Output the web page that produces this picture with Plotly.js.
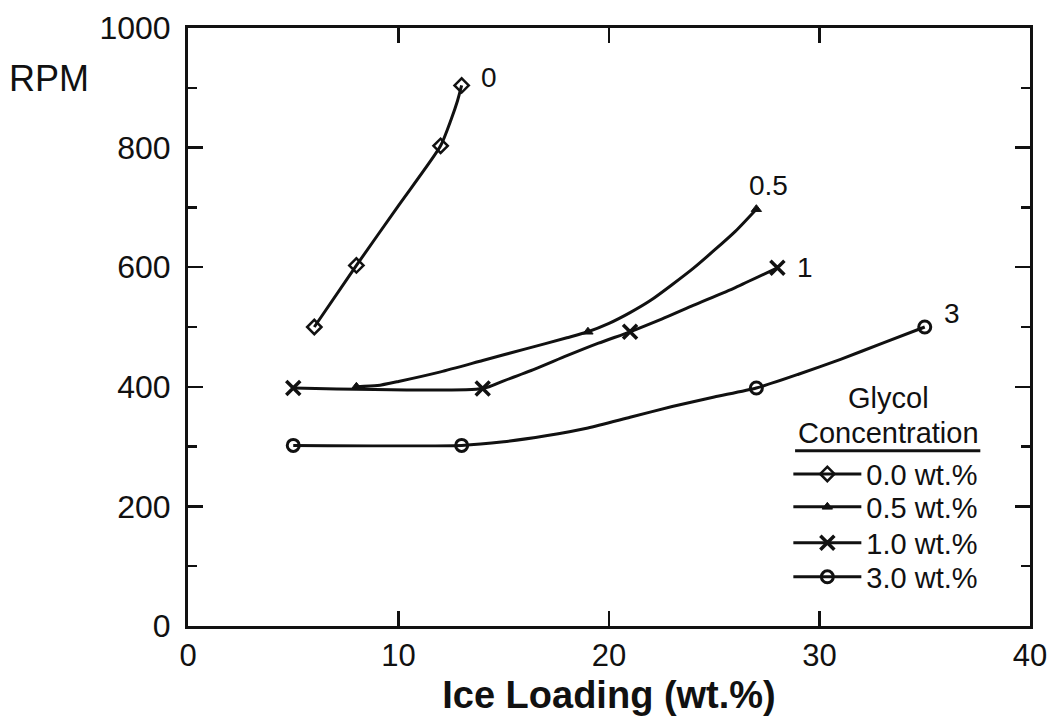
<!DOCTYPE html>
<html>
<head>
<meta charset="utf-8">
<script src="https://cdn.plot.ly/plotly-3.0.1.min.js"></script>
<style>html,body{margin:0;padding:0;background:#fff;}#chart{width:1050px;height:726px;}</style>
</head>
<body>
<div id="chart"></div>
<script>
// Measured points (markers)
const g0_x = [6, 8, 12, 13];
const g0_y = [500, 603, 803, 904];
const g05_x = [8, 19, 27];
const g05_y = [400, 492, 697];
const g1_x = [5, 14, 21, 28];
const g1_y = [398, 397, 492, 599];
const g3_x = [5, 13, 27, 35];
const g3_y = [302, 302, 398, 500];

// Fitted curves
const g0_curve_x = [6, 8, 10, 12, 12.5, 12.8, 13];
const g0_curve_y = [500, 603, 703, 803, 847, 878, 904];
const g05_curve_x = [8, 9, 10, 12, 14, 16, 18, 19, 20, 21, 22, 24, 26, 27];
const g05_curve_y = [400, 402, 409, 425, 444, 463, 482, 492, 506, 524, 545, 598, 660, 697];
const g1_curve_x = [5, 14, 15, 16.5, 18, 19.5, 21, 22.5, 24, 26, 28];
const g1_curve_y = [398, 397, 410, 430, 452, 473, 492, 513, 536, 566, 599];
const g3_curve_x = [5, 13, 15, 17, 19, 21, 23, 25, 27, 29, 31, 33, 35];
const g3_curve_y = [302, 302, 308, 318, 331, 349, 367, 383, 398, 421, 446, 473, 500];

const seriesNames = ['0.0 wt.%', '0.5 wt.%', '1.0 wt.%', '3.0 wt.%'];
const curveLabels = ['0', '0.5', '1', '3'];
const labelX = [14.3, 27.6, 29.3, 36.3];
const labelY = [918, 737, 600, 523];

const FONT = 'Liberation Sans, Arial, Helvetica, sans-serif';
const INK = '#111';
const markerStyles = [
  {symbol: 'diamond-open', size: 11, color: INK, line: {width: 2.5, color: INK}},
  {symbol: 'triangle-up', size: 9, color: INK, line: {width: 1, color: INK}},
  {symbol: 'x-thin-open', size: 14, color: INK, line: {width: 3.5, color: INK}},
  {symbol: 'circle-open', size: 12, color: INK, line: {width: 3, color: INK}}
];
const curves = [[g0_curve_x, g0_curve_y], [g05_curve_x, g05_curve_y], [g1_curve_x, g1_curve_y], [g3_curve_x, g3_curve_y]];
const points = [[g0_x, g0_y], [g05_x, g05_y], [g1_x, g1_y], [g3_x, g3_y]];
const legendIds = ['legend', 'legend2', 'legend3', 'legend4'];
const legendRowY = [0.254, 0.199, 0.139, 0.082];

const traces = [];
for (let i = 0; i < 4; i++) {
  traces.push({
    x: curves[i][0], y: curves[i][1], type: 'scatter', mode: 'lines',
    line: {color: INK, width: 3, shape: 'spline', smoothing: 0.6},
    showlegend: false, hoverinfo: 'skip'
  });
  traces.push({
    x: points[i][0], y: points[i][1], type: 'scatter', mode: 'markers',
    marker: markerStyles[i], showlegend: false
  });
}
for (let i = 0; i < 4; i++) {
  traces.push({
    x: [null], y: [null], type: 'scatter', mode: 'lines+markers', name: seriesNames[i],
    line: {color: INK, width: 3}, marker: markerStyles[i], showlegend: true,
    legend: legendIds[i]
  });
}

const annotations = curveLabels.map((t, i) => ({
  x: labelX[i], y: labelY[i], xref: 'x', yref: 'y', text: t, showarrow: false,
  xanchor: 'center', yanchor: 'middle',
  font: {family: FONT, size: 28, color: INK}
}));
annotations.push({x: 0.832, y: 0.381, xref: 'paper', yref: 'paper', text: 'Glycol', showarrow: false,
  xanchor: 'center', yanchor: 'middle', font: {family: FONT, size: 29, color: INK}});
annotations.push({x: 0.832, y: 0.323, xref: 'paper', yref: 'paper', text: 'Concentration', showarrow: false,
  xanchor: 'center', yanchor: 'middle', font: {family: FONT, size: 29, color: INK}});
annotations.push({x: -0.215, y: 0.915, xref: 'paper', yref: 'paper', text: 'RPM', showarrow: false,
  xanchor: 'left', yanchor: 'middle', font: {family: FONT, size: 36, color: INK}});

const layout = {
  width: 1050, height: 726,
  margin: {l: 188, r: 20, t: 28, b: 100},
  paper_bgcolor: '#fff', plot_bgcolor: '#fff',
  font: {family: FONT, color: INK},
  showlegend: true,
  xaxis: {
    range: [0, 40], dtick: 10, tick0: 0, showgrid: false, zeroline: false,
    showline: true, linecolor: INK, linewidth: 3, mirror: 'ticks',
    ticks: 'inside', ticklen: 15, tickwidth: 2.5, tickcolor: INK,
    tickfont: {family: FONT, size: 31, color: INK}, ticklabelstandoff: 0,
    title: {text: '<b>Ice Loading (wt.%)</b>', font: {family: FONT, size: 38, color: INK}, standoff: 10}
  },
  yaxis: {
    range: [0, 1000], dtick: 200, tick0: 0, showgrid: false, zeroline: false,
    showline: true, linecolor: INK, linewidth: 3, mirror: 'ticks',
    ticks: 'inside', ticklen: 15, tickwidth: 2.5, tickcolor: INK,
    minor: {dtick: 100, ticks: 'inside', ticklen: 9, tickwidth: 2.5, tickcolor: INK, showgrid: false},
    tickfont: {family: FONT, size: 32, color: INK}, ticklabelstandoff: 8
  },
  shapes: [{type: 'line', xref: 'paper', yref: 'paper', x0: 0.721, x1: 0.941, y0: 0.293, y1: 0.293,
    line: {color: INK, width: 3}}],
  annotations: annotations
};
legendIds.forEach((id, i) => {
  layout[id] = {
    x: 0.713, y: legendRowY[i], xanchor: 'left', yanchor: 'middle',
    font: {family: FONT, size: 29, color: INK},
    itemwidth: 68, bgcolor: 'rgba(0,0,0,0)', borderwidth: 0
  };
});

Plotly.newPlot('chart', traces, layout, {displayModeBar: false, staticPlot: true});
</script>
</body>
</html>
